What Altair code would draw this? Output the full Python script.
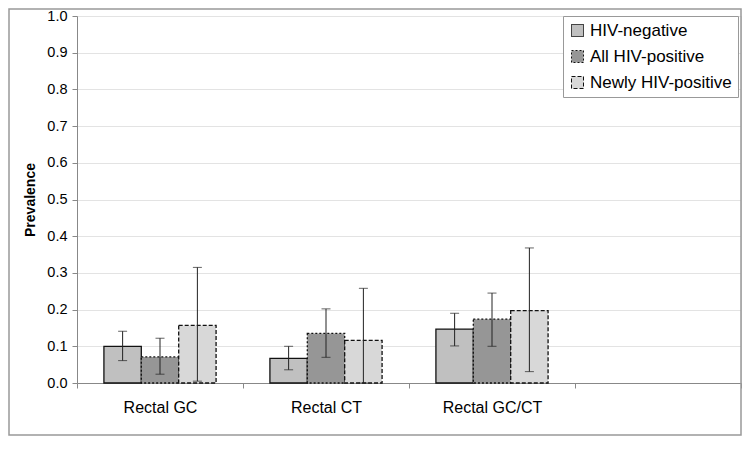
import altair as alt
import pandas as pd

cats = ["Rectal GC", "Rectal CT", "Rectal GC/CT"]
cat_domain = cats + [" "]
series = ["HIV-negative", "All HIV-positive", "Newly HIV-positive"]

neg = [0.100, 0.067, 0.147]
neg_lo = [0.061, 0.036, 0.101]
neg_hi = [0.141, 0.100, 0.190]

allpos = [0.071, 0.135, 0.174]
allpos_lo = [0.024, 0.070, 0.100]
allpos_hi = [0.122, 0.202, 0.245]

newly = [0.157, 0.116, 0.197]
newly_lo = [0.005, 0.000, 0.031]
newly_hi = [0.315, 0.258, 0.368]

rows = []
for s, v, lo, hi in [
    (series[0], neg, neg_lo, neg_hi),
    (series[1], allpos, allpos_lo, allpos_hi),
    (series[2], newly, newly_lo, newly_hi),
]:
    for c, a, b, d in zip(cats, v, lo, hi):
        rows.append({"cat": c, "series": s, "value": a, "lo": b, "hi": d})
df = pd.DataFrame(rows)

FONT = "Liberation Sans"
W, H = 664, 367

xscale = alt.Scale(domain=cat_domain, paddingInner=0, paddingOuter=0)
xoff = alt.XOffset("series:N", scale=alt.Scale(domain=series, paddingInner=0, paddingOuter=0.72))
yscale = alt.Scale(domain=[0, 1], nice=False)

xaxis = alt.Axis(
    title=None, tickBand="extent", labelAngle=0, labelFontSize=16, labelFont=FONT,
    labelColor="#000", domainColor="#888", tickColor="#888", tickSize=5,
    labelPadding=11, grid=False,
)
yaxis = alt.Axis(
    title="Prevalence", values=[round(i / 10, 1) for i in range(11)], format=".1f",
    labelOverlap=False, labelFontSize=14.5, labelFont=FONT, labelColor="#000",
    titleFont=FONT, titleFontSize=14, titleFontWeight="bold", titleColor="#000",
    titlePadding=9, domainColor="#888", tickColor="#888", tickSize=5,
    labelPadding=5, gridColor="#e3e3e3", gridWidth=1,
)

X = alt.X("cat:N", scale=xscale, axis=xaxis, sort=cat_domain)

frame = alt.Chart(pd.DataFrame({"a": [0]})).mark_rect(
    fill="transparent", stroke="#999", strokeWidth=1.5
).encode(
    x=alt.value(-68), x2=alt.value(W), y=alt.value(-7), y2=alt.value(H + 52)
)

bars = alt.Chart(df).mark_bar(strokeWidth=1.3, stroke="#111").encode(
    x=X,
    xOffset=xoff,
    y=alt.Y("value:Q", scale=yscale, axis=yaxis),
    fill=alt.Fill(
        "series:N",
        scale=alt.Scale(domain=series, range=["#c0c0c0", "#969696", "#d8d8d8"]),
        legend=alt.Legend(
            title=None, orient="none", legendX=486, legendY=0,
            labelFont=FONT, labelFontSize=17, labelColor="#000",
            symbolType="square", symbolSize=144, symbolStrokeColor="#111",
            symbolStrokeWidth=1, labelOffset=4, rowPadding=8,
            padding=6, strokeColor="#999", fillColor="white",
            labelLimit=300,
        ),
    ),
    strokeDash=alt.StrokeDash(
        "series:N",
        scale=alt.Scale(domain=series, range=[[1, 0], [2, 2], [4, 2]]),
        legend=None,
    ),
)

rules = alt.Chart(df).mark_rule(color="#222", strokeWidth=1).encode(
    x=X,
    xOffset=xoff,
    y=alt.Y("lo:Q", scale=yscale, axis=yaxis),
    y2="hi:Q",
)

cap_lo = alt.Chart(df).mark_tick(color="#222", size=9, thickness=1).encode(
    x=X,
    xOffset=xoff,
    y=alt.Y("lo:Q", scale=yscale, axis=yaxis),
)
cap_hi = alt.Chart(df).mark_tick(color="#222", size=9, thickness=1).encode(
    x=X,
    xOffset=xoff,
    y=alt.Y("hi:Q", scale=yscale, axis=yaxis),
)

chart = alt.layer(bars, rules, cap_lo, cap_hi, frame).properties(
    width=W, height=H,
    autosize=alt.AutoSizeParams(type="none"),
    padding={"left": 69, "top": 8, "right": 1, "bottom": 53},
).configure_view(stroke=None).configure(background="white")

chart.save("out.html", embed_options={"renderer": "svg", "actions": False})
